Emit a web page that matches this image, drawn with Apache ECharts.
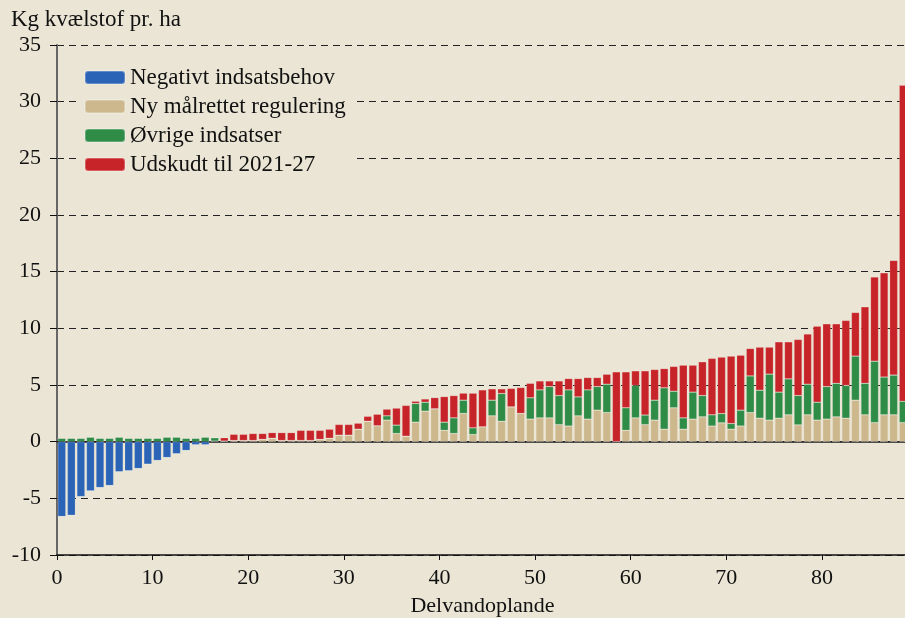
<!DOCTYPE html>
<html>
<head>
<meta charset="utf-8">
<title>Kvælstof pr. delvandopland</title>
<script src="https://cdn.jsdelivr.net/npm/echarts@6/dist/echarts.min.js"></script>
<style>
    html, body { margin: 0; padding: 0; background: #EAE5D4; }
    #chart { width: 905px; height: 618px; }
</style>
</head>
<body>
<div id="chart"></div>
<script>
// delvandoplande 0..88, sorteret efter samlet indsatsbehov
var plande = [];
for (var i = 0; i < 89; i++) plande.push(String(i));

var negativ = [-6.6, -6.5, -4.85, -4.35, -4.05, -3.87, -2.66, -2.57, -2.37, -1.99,
    -1.66, -1.4, -1.07, -0.78, -0.28, -0.28, 0, 0, 0, 0,
    0, 0, 0, 0, 0, 0, 0, 0, 0, 0,
    0, 0, 0, 0, 0, 0, 0, 0, 0, 0,
    0, 0, 0, 0, 0, 0, 0, 0, 0, 0,
    0, 0, 0, 0, 0, 0, 0, 0, 0, 0,
    0, 0, 0, 0, 0, 0, 0, 0, 0, 0,
    0, 0, 0, 0, 0, 0, 0, 0, 0, 0,
    0, 0, 0, 0, 0, 0, 0, 0, 0];

var maalrettet = [0, 0, 0, 0, 0, 0, 0, 0, 0, 0,
    0, 0, 0, 0, 0, 0, 0.05, 0.05, 0.1, 0.1,
    0.1, 0.2, 0.3, 0.1, 0.1, 0.1, 0.1, 0.2, 0.3, 0.57,
    0.57, 1.1, 1.8, 1.4, 1.9, 0.72, 0.48, 1.72, 2.69, 2.9,
    1.0, 0.72, 2.49, 0.63, 1.31, 2.28, 1.8, 3.07, 2.49, 1.99,
    2.1, 2.1, 1.5, 1.38, 2.28, 1.99, 2.78, 2.57, 0, 1.0,
    2.1, 1.5, 1.9, 1.1, 2.99, 1.1, 1.99, 2.19, 1.38, 1.66,
    1.1, 1.38, 2.57, 2.07, 1.9, 2.07, 2.37, 1.48, 2.37, 1.9,
    1.99, 2.19, 2.07, 3.66, 2.37, 1.68, 2.37, 2.37, 1.68];

var oevrige = [0.3, 0.3, 0.3, 0.4, 0.3, 0.3, 0.4, 0.3, 0.3, 0.3,
    0.3, 0.4, 0.4, 0.3, 0.3, 0.4, 0.3, 0, 0, 0,
    0, 0, 0, 0, 0, 0, 0, 0, 0, 0,
    0, 0, 0, 0, 0.38, 0.74, 0, 1.65, 0.79, 0,
    0.72, 1.38, 1.17, 0.59, 0, 1.38, 2.45, 0, 0, 1.88,
    2.47, 2.76, 2.57, 3.19, 1.67, 2.58, 2.08, 2.5, 0, 1.99,
    2.86, 0.85, 1.76, 3.65, 1.46, 1.0, 2.38, 1.88, 0.99, 0.82,
    0.5, 1.4, 3.23, 2.47, 4.06, 2.3, 3.17, 2.59, 2.7, 1.58,
    2.87, 2.96, 2.89, 3.89, 2.78, 5.42, 3.33, 3.5, 1.89];

var udskudt = [0, 0, 0, 0, 0, 0, 0, 0, 0, 0,
    0, 0, 0, 0, 0, 0, 0, 0.3, 0.55, 0.55,
    0.62, 0.52, 0.5, 0.7, 0.7, 0.9, 0.9, 0.8, 0.8, 0.95,
    0.95, 0.53, 0.44, 1.02, 0.59, 1.5, 2.72, 0.2, 0.29, 0.99,
    2.26, 1.97, 0.62, 3.06, 3.26, 1.0, 0.41, 1.63, 2.29, 1.28,
    0.79, 0.5, 1.29, 1.0, 1.62, 1.09, 0.8, 0.88, 6.16, 3.17,
    1.29, 3.9, 2.71, 1.7, 2.19, 4.65, 2.38, 2.98, 4.98, 4.98,
    5.95, 4.85, 2.42, 3.8, 2.38, 4.44, 3.27, 4.95, 4.43, 6.71,
    5.54, 5.25, 5.74, 3.85, 6.75, 7.43, 9.2, 10.13, 27.88];

var serieNavne = ['Negativt indsatsbehov', 'Ny målrettet regulering', 'Øvrige indsatser', 'Udskudt til 2021-27'];
var farver = ['#2B63B6', '#CDB88D', '#2E8C47', '#C7242A'];

var font = '"Liberation Serif", "Times New Roman", serif';

var myChart = echarts.init(document.getElementById('chart'));

function bar(name, data, color) {
    return {
        name: name,
        type: 'bar',
        stack: 'total',
        data: data,
        barWidth: 8,
        itemStyle: {
            color: color,
            borderColor: 'rgba(255,255,255,0.25)',
            borderWidth: 0.6
        }
    };
}

var series = [
    bar(serieNavne[0], negativ, farver[0]),
    bar(serieNavne[1], maalrettet, farver[1]),
    bar(serieNavne[2], oevrige, farver[2]),
    bar(serieNavne[3], udskudt, farver[3])
];
// fuldt optrukket nul-linje
series[0].markLine = {
    silent: true,
    symbol: 'none',
    label: { show: false },
    lineStyle: { color: '#111', type: 'solid', width: 1.5 },
    data: [{ yAxis: 0 }],
    z: 1
};

var option = {
    backgroundColor: '#EAE5D4',
    animation: false,
    title: {
        text: 'Kg kvælstof pr. ha',
        left: 6,
        top: 3,
        textStyle: { fontFamily: font, fontSize: 23, fontWeight: 'normal', color: '#111' }
    },
    legend: {
        orient: 'vertical',
        left: 76,
        top: 60,
        data: serieNavne,
        itemWidth: 40,
        itemHeight: 13,
        itemGap: 6,
        padding: [6, 10, 6, 8],
        backgroundColor: '#EAE5D4',
        textStyle: { fontFamily: font, fontSize: 23, color: '#111' }
    },
    grid: {
        left: 57,
        right: -3,
        top: 45,
        bottom: 63,
        outerBoundsMode: 'none'
    },
    xAxis: [{
        type: 'category',
        data: plande,
        show: false
    }, {
        type: 'value',
        position: 'bottom',
        min: 0,
        max: 89,
        interval: 10,
        name: 'Delvandoplande',
        nameLocation: 'middle',
        nameGap: 40,
        nameTextStyle: { fontFamily: font, fontSize: 22, color: '#111' },
        axisLine: { show: true, onZero: false, lineStyle: { color: '#111', width: 1.5 } },
        axisTick: { show: true, length: 5, lineStyle: { color: '#111' } },
        axisLabel: {
            fontFamily: font, fontSize: 22, color: '#111', margin: 12,
            formatter: function (v) { return v % 10 === 0 ? String(v) : ''; }
        },
        splitLine: { show: false }
    }],
    yAxis: {
        type: 'value',
        min: -10,
        max: 35,
        interval: 5,
        axisLine: { show: true, lineStyle: { color: '#666', width: 2 } },
        axisTick: { show: true, length: 7, lineStyle: { color: '#111' } },
        axisLabel: { fontFamily: font, fontSize: 22, color: '#111', margin: 16 },
        splitLine: { show: true, lineStyle: { color: '#222', type: [7, 5], width: 1.2 } }
    },
    series: series
};

myChart.setOption(option);
</script>
</body>
</html>
